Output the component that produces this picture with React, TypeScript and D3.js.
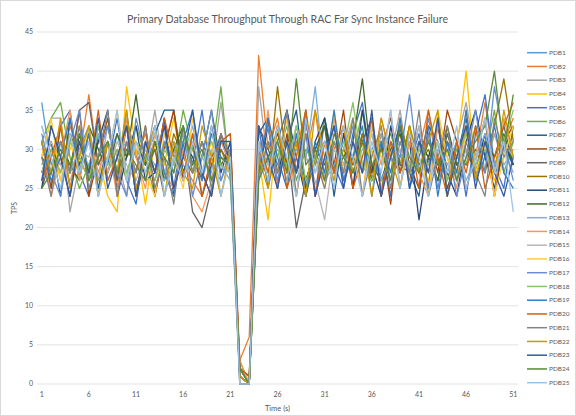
import React from "react";
import * as d3 from "d3";

const TITLE = "Primary Database Throughput Through RAC Far Sync Instance Failure";
const X_LABEL = "Time (s)";
const Y_LABEL = "TPS";
const TIMES = d3.range(1, 52);
const X_TICKS = [1, 6, 11, 16, 21, 26, 31, 36, 41, 46, 51];
const Y_TICKS = [0, 5, 10, 15, 20, 25, 30, 35, 40, 45];

const COLORS = [
  "#5B9BD5", "#ED7D31", "#A5A5A5", "#FFC000", "#4472C4", "#70AD47",
  "#255E91", "#9E480E", "#636363", "#997300", "#264478", "#43682B",
  "#7CAFDD", "#F1975A", "#B7B7B7", "#FFCD33", "#698ED0", "#8CC168",
  "#327DC2", "#D26012", "#848484", "#CC9A00", "#335AA1", "#5A8A39",
  "#9DC3E6",
];

const PDB1 = [36,28,31,27,30,33,26,29,32,27,30,28,33,26,30,29,27,31,28,26,29, 2,0, 30,33,28,31,27,34,29,26,31,28,33,27,30,32,26,29,31,27,34,28,30,26,33,29,31,27,30,28];
const PDB2 = [26,30,27,33,29,37,28,31,25,34,29,32,27,30,35,28,26,24,29,31,32, 3,6, 42,30,34,27,31,29,35,26,30,33,28,31,27,34,29,32,26,30,35,28,31,27,33,29,36,28,31,34];
const PDB3 = [29,34,34,22,28,31,26,33,29,24,31,28,35,27,30,26,32,29,27,36,27, 1,0, 38,28,31,26,33,29,27,31,26,30,34,28,26,32,29,35,27,30,28,33,26,31,36,29,27,32,28,30];
const PDB4 = [28,31,26,30,33,27,29,24,22,38,30,23,31,28,34,27,30,26,32,29,28, 1,0, 29,21,33,27,30,35,28,26,31,29,34,27,30,25,31,28,33,29,26,31,28,30,40,27,31,26,29,32];
const PDB5 = [31,25,33,35,27,24,32,28,34,26,23,31,27,34,25,33,28,35,26,31,29, 2,0, 33,25,31,35,27,32,24,34,28,25,32,36,27,31,24,33,28,32,25,34,27,31,24,32,37,28,25,33];
const PDB6 = [31,34,36,29,25,28,32,27,30,26,33,29,24,31,28,35,30,27,29,38,26, 3,0, 27,31,29,33,26,30,28,34,27,31,29,35,26,30,32,28,33,27,29,31,26,30,28,33,29,35,27,31];
const PDB7 = [27,31,24,34,28,32,25,31,27,33,24,29,32,35,35,27,31,24,28,32,27, 1,0, 32,34,27,31,35,25,30,33,24,32,27,31,34,26,29,33,27,24,33,31,25,29,34,27,32,24,31,28];
const PDB8 = [31,25,33,27,35,24,29,34,26,31,27,33,24,30,35,26,31,27,24,32,29, 2,1, 28,34,25,32,27,35,24,31,28,35,25,32,27,31,23,34,28,25,32,27,35,31,25,29,34,24,31,33];
const PDB9 = [25,29,31,27,35,36,28,31,26,33,29,27,30,24,29,31,22,20,25,30,28, 2,0, 33,30,27,31,20,26,30,28,33,27,29,31,26,30,34,28,27,31,29,26,32,28,30,27,31,29,33,28];
const PDB10 = [27,30,28,32,29,26,31,33,27,29,31,28,30,26,32,29,27,31,28,30,27, 1,0, 30,26,38,28,31,24,29,33,27,30,28,32,26,31,29,27,33,28,30,26,31,29,28,30,27,33,39,31];
const PDB11 = [25,33,29,24,32,27,31,35,24,29,33,26,27,34,24,31,29,26,33,27,31, 2,0, 27,33,25,35,29,24,31,34,27,32,25,35,28,24,33,27,31,21,29,33,27,24,31,35,29,25,31,28];
const PDB12 = [29,27,31,28,26,33,30,27,32,29,37,28,31,26,30,33,27,29,35,28,30, 2,1, 27,29,32,28,31,26,30,33,27,29,31,39,28,26,30,32,27,31,29,26,33,28,30,27,31,29,32,28];
const PDB13 = [33,29,31,27,30,28,32,26,29,31,27,30,28,26,31,29,33,27,30,28,26, 0,0, 31,28,33,27,30,29,38,26,28,31,27,30,32,26,29,31,28,33,27,30,28,31,26,29,32,28,30,27];
const PDB14 = [31,24,29,35,26,32,27,31,24,34,29,25,32,27,25,30,24,22,26,31,28, 3,0, 27,35,25,31,24,33,29,26,34,27,31,24,33,28,35,25,31,27,24,33,29,25,35,27,31,24,34,29];
const PDB15 = [27,31,28,26,30,29,33,27,31,28,26,30,32,27,29,31,28,26,30,29,27, 1,0, 30,28,31,27,33,29,26,21,30,28,31,27,32,29,26,30,28,33,27,31,29,26,30,28,34,27,31,29];
const PDB16 = [29,34,26,31,27,33,24,29,35,26,31,27,24,32,29,25,34,27,31,24,29, 0,0, 26,31,27,34,24,32,29,25,35,27,31,24,33,29,26,34,27,31,24,35,29,26,32,27,31,24,29,33];
const PDB17 = [32,27,24,31,35,26,29,33,27,24,34,29,26,31,27,33,24,29,35,26,30, 1,0, 29,33,26,31,27,35,24,29,33,26,31,27,34,24,31,29,37,27,32,25,31,24,29,35,27,38,31,26];
const PDB18 = [28,30,27,31,29,26,33,28,30,27,31,29,26,30,28,32,27,29,31,28,27, 2,0, 31,27,30,28,33,26,29,31,27,30,36,28,26,31,29,33,27,30,28,31,26,29,32,28,30,27,31,35];
const PDB19 = [31,26,29,34,27,32,24,31,27,35,25,29,33,27,24,31,35,26,32,29,28, 1,0, 27,34,29,25,32,24,31,27,35,26,29,33,24,31,27,34,25,29,33,24,31,27,35,26,29,33,27,25];
const PDB20 = [26,29,33,25,31,27,35,26,29,33,24,31,27,34,29,26,32,24,29,31,32, 2,1, 31,27,33,25,29,35,24,31,27,33,25,29,34,24,31,27,32,25,35,29,24,31,27,33,25,29,33,36];
const PDB21 = [29,24,31,27,33,25,29,35,24,31,27,33,25,29,23,33,27,31,25,32,29, 1,0, 26,31,27,35,24,32,29,25,31,27,34,24,29,33,25,31,27,35,24,29,33,26,31,27,24,34,29,31];
const PDB22 = [31,27,34,25,29,33,24,31,27,35,25,29,33,24,31,27,25,33,29,24,30, 1,0, 29,25,33,27,31,24,35,29,26,33,27,31,24,34,29,25,33,27,31,35,24,29,33,26,31,27,35,29];
const PDB23 = [26,33,29,24,31,27,34,25,29,33,24,31,27,33,25,29,35,27,24,31,31, 0,0, 33,29,25,31,27,34,24,29,33,25,31,27,35,24,29,33,25,31,27,34,24,29,33,25,31,27,24,29];
const PDB24 = [25,27,30,28,32,26,29,31,27,30,28,26,31,29,27,33,28,30,26,29,28, 2,0, 26,29,31,27,39,28,30,26,32,29,27,31,28,30,26,33,29,27,31,28,30,26,29,31,33,40,30,37];
const PDB25 = [33,29,25,32,27,31,24,29,35,26,31,27,33,24,29,26,31,27,33,24,29, 0,0, 31,26,33,29,24,34,27,31,25,33,29,24,31,27,35,25,32,29,24,31,27,33,25,29,34,27,31,22];

const SERIES = [PDB1, PDB2, PDB3, PDB4, PDB5, PDB6, PDB7, PDB8, PDB9, PDB10, PDB11, PDB12, PDB13,
  PDB14, PDB15, PDB16, PDB17, PDB18, PDB19, PDB20, PDB21, PDB22, PDB23, PDB24, PDB25];
const NAMES = SERIES.map((_, i) => `PDB${i + 1}`);

const W = 576, H = 416;
const PL = 37, PR = 518, PT = 32, PB = 384;
const FONT = "Lato, 'Open Sans', sans-serif";
const TXT = "#595959";

export default function App() {
  const x = d3.scalePoint<number>().domain(TIMES).range([PL, PR]).padding(0.5);
  const y = d3.scaleLinear().domain([0, 45]).range([PB, PT]);
  const line = d3.line<number>().x((_, i) => x(TIMES[i]) as number).y((d) => y(d));
  const legY = d3.scaleLinear().domain([0, 24]).range([52.7, 382.7]);

  return (
    <svg width={W} height={H} style={{ position: "absolute", left: 0, top: 0, background: "#fff" }} fontFamily={FONT}>
      <rect x={0.5} y={0.5} width={W - 1} height={H - 1} fill="#fff" stroke="#D9D9D9" />
      <text x={287.5} y={19} dy="0.35em" textAnchor="middle" fontSize={11.5} fill={TXT}
        textLength={321} lengthAdjust="spacingAndGlyphs">{TITLE}</text>
      {Y_TICKS.map((t) => (
        <g key={t}>
          <line x1={PL} x2={PR} y1={y(t)} y2={y(t)} stroke="#D9D9D9" strokeWidth={0.75} />
          <text x={33} y={y(t)} dy="0.35em" textAnchor="end" fontSize={7} fill={TXT}>{t}</text>
        </g>
      ))}
      {X_TICKS.map((t) => (
        <text key={t} x={x(t)} y={397} textAnchor="middle" fontSize={7} fill={TXT}>{t}</text>
      ))}
      <text x={(PL + PR) / 2} y={411} textAnchor="middle" fontSize={7.5} fill={TXT}>{X_LABEL}</text>
      <text transform={`translate(17,${(PT + PB) / 2}) rotate(-90)`} textAnchor="middle" fontSize={7} fill={TXT}>{Y_LABEL}</text>
      <g fill="none" strokeWidth={1.3} strokeLinejoin="round">
        {SERIES.map((s, i) => (
          <path key={i} d={line(s) ?? ""} stroke={COLORS[i]} />
        ))}
      </g>
      {NAMES.map((n, i) => (
        <g key={n}>
          <line x1={527} x2={547} y1={legY(i)} y2={legY(i)} stroke={COLORS[i]} strokeWidth={1.5} />
          <text x={549} y={legY(i)} dy="0.35em" fontSize={6.5} fill={TXT}>{n}</text>
        </g>
      ))}
    </svg>
  );
}
